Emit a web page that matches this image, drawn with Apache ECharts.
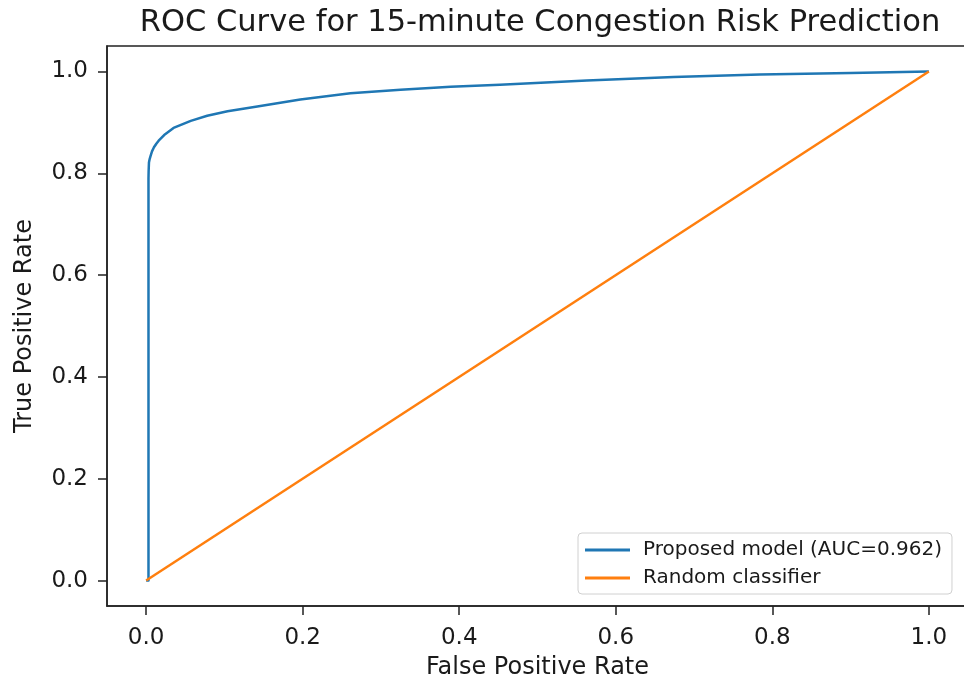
<!DOCTYPE html>
<html>
<head>
<meta charset="utf-8">
<script src="https://cdn.jsdelivr.net/npm/echarts@6/dist/echarts.min.js"></script>
<style>
    html, body { margin: 0; padding: 0; background: #fff; }
    #chart { width: 964px; height: 688px; }
</style>
</head>
<body>
<div id="chart"></div>
<script>
// ROC curve
var modelFpr = [0, 0.003, 0.003, 0.0032, 0.0036, 0.0045, 0.0057, 0.0075, 0.010, 0.013, 0.016, 0.023, 0.035, 0.057, 0.078, 0.104, 0.142, 0.197, 0.261, 0.325, 0.389, 0.452, 0.563, 0.674, 0.784, 0.9, 1.0];
var modelTpr = [0, 0.0, 0.79, 0.805, 0.821, 0.828, 0.834, 0.843, 0.851, 0.858, 0.864, 0.875, 0.889, 0.903, 0.913, 0.922, 0.931, 0.945, 0.957, 0.964, 0.970, 0.974, 0.982, 0.989, 0.994, 0.997, 1.0];
var randomFpr = [0, 1];
var randomTpr = [0, 1];
var tickValues = [0, 0.2, 0.4, 0.6, 0.8, 1.0];

var names = ['Proposed model (AUC=0.962)', 'Random classifier'];

function pairs(xs, ys) {
    var out = [];
    for (var i = 0; i < xs.length; i++) {
        out.push([xs[i], ys[i]]);
    }
    return out;
}

var font = 'DejaVu Sans';
var myChart = echarts.init(document.getElementById('chart'));

var option = {
    animation: false,
    backgroundColor: '#fff',
    title: {
        text: 'ROC Curve for 15-minute Congestion Risk Prediction',
        left: 535,
        textAlign: 'center',
        top: 3,
        textStyle: { fontFamily: font, fontSize: 30.5, fontWeight: 'normal', color: '#1a1a1a' }
    },
    grid: {
        left: 107,
        top: 46,
        width: 861,
        height: 560,
        outerBoundsMode: 'none',
        containLabel: false,
        show: true,
        borderColor: '#222',
        borderWidth: 1.5
    },
    legend: {
        orient: 'vertical',
        left: 578,
        top: 533,
        padding: [7, 10, 6, 7],
        itemGap: 8,
        itemWidth: 45,
        itemHeight: 3,
        backgroundColor: '#fff',
        borderColor: '#d0d0d0',
        borderWidth: 1,
        borderRadius: 4,
        textStyle: { fontFamily: font, fontSize: 20, color: '#1a1a1a', padding: [0, 0, 0, 8] },
        data: [
            { name: names[0], icon: 'rect' },
            { name: names[1], icon: 'rect' }
        ]
    },
    xAxis: {
        type: 'value',
        min: -0.05,
        max: 1.05,
        name: 'False Positive Rate',
        nameLocation: 'middle',
        nameGap: 50,
        nameTextStyle: { fontFamily: font, fontSize: 24, color: '#1a1a1a' },
        axisLine: { show: true, onZero: false, lineStyle: { color: '#222', width: 1.5 } },
        axisTick: { show: true, length: 9, lineStyle: { color: '#222', width: 1.5 }, customValues: tickValues },
        axisLabel: {
            customValues: tickValues,
            margin: 21,
            fontFamily: font, fontSize: 23, color: '#1a1a1a',
            formatter: function (v) { return v.toFixed(1); }
        },
        splitLine: { show: false }
    },
    yAxis: {
        type: 'value',
        min: -0.05,
        max: 1.05,
        name: 'True Positive Rate',
        nameLocation: 'middle',
        nameRotate: 90,
        nameGap: 70,
        nameTextStyle: { fontFamily: font, fontSize: 24, color: '#1a1a1a' },
        axisLine: { show: true, onZero: false, lineStyle: { color: '#222', width: 1.5 } },
        axisTick: { show: true, length: 9, lineStyle: { color: '#222', width: 1.5 }, customValues: tickValues },
        axisLabel: {
            customValues: tickValues,
            margin: 19,
            fontFamily: font, fontSize: 23, color: '#1a1a1a',
            formatter: function (v) { return v.toFixed(1); }
        },
        splitLine: { show: false }
    },
    series: [
        {
            name: names[0],
            type: 'line',
            data: pairs(modelFpr, modelTpr),
            showSymbol: false,
            smooth: false,
            itemStyle: { color: '#1f77b4' },
            lineStyle: { color: '#1f77b4', width: 2.5, join: 'round' },
            z: 2
        },
        {
            name: names[1],
            type: 'line',
            data: pairs(randomFpr, randomTpr),
            showSymbol: false,
            itemStyle: { color: '#ff7f0e' },
            lineStyle: { color: '#ff7f0e', width: 2.5 },
            z: 3
        }
    ]
};

myChart.setOption(option);
</script>
</body>
</html>
